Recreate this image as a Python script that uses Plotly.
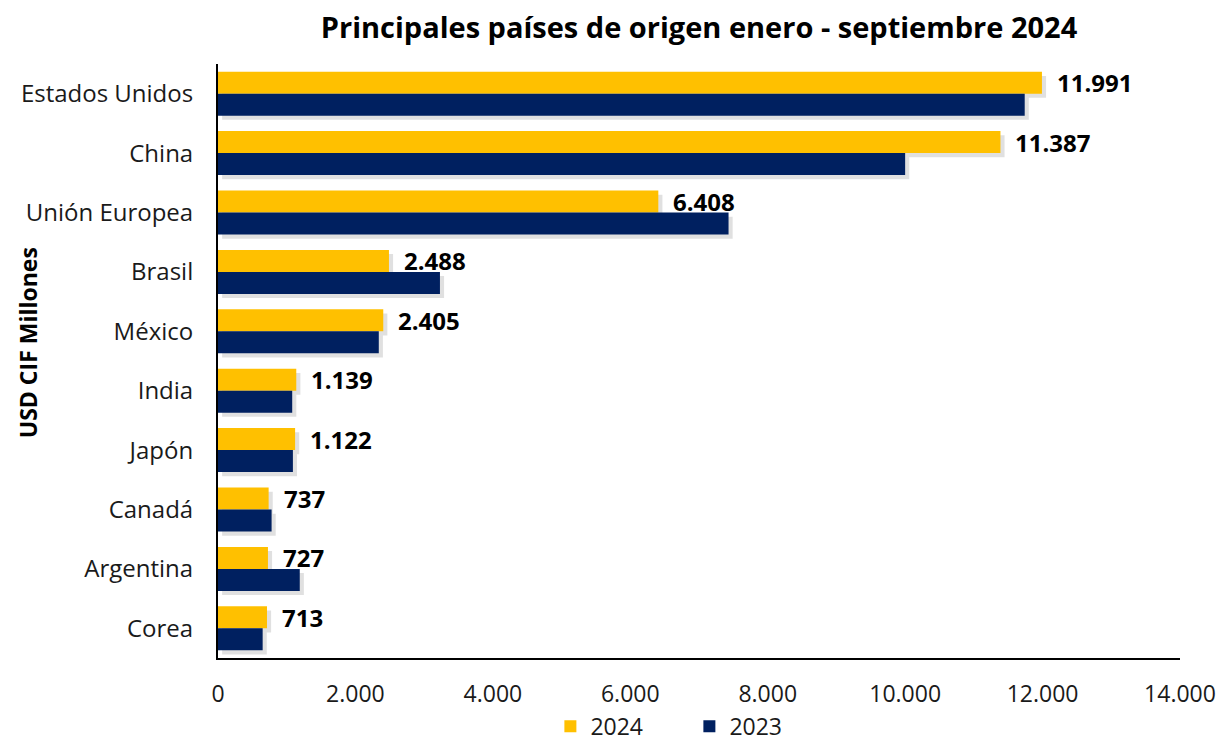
import plotly.graph_objects as go

countries = ["Estados Unidos", "China", "Unión Europea", "Brasil", "México",
             "India", "Japón", "Canadá", "Argentina", "Corea"]
values_2024 = [11991, 11387, 6408, 2488, 2405, 1139, 1122, 737, 727, 713]
values_2023 = [11740, 10000, 7430, 3230, 2340, 1080, 1090, 780, 1190, 650]
x_ticks = [0, 2000, 4000, 6000, 8000, 10000, 12000, 14000]
x_tick_labels = ["0", "2.000", "4.000", "6.000", "8.000", "10.000", "12.000", "14.000"]

def fmt(v):
    return f"{v:,}".replace(",", ".")

GOLD = "#FFC000"
NAVY = "#002060"
FONT = "Open Sans"

fig = go.Figure()

# soft drop shadows (same data, slightly shifted)
for i, vals in enumerate([values_2024, values_2023]):
    fig.add_trace(go.Bar(
        y=countries, x=vals, orientation="h", base=60,
        width=0.37, offset=-0.37 + i * 0.37 + 0.07,
        marker=dict(color="rgba(0,0,0,0.12)", line=dict(width=0)),
        showlegend=False, hoverinfo="skip",
    ))

fig.add_trace(go.Bar(
    y=countries, x=values_2024, orientation="h", name="2024",
    width=0.37, offset=-0.37,
    marker=dict(color=GOLD, line=dict(width=0)),
))
fig.add_trace(go.Bar(
    y=countries, x=values_2023, orientation="h", name="2023",
    width=0.37, offset=0.0,
    marker=dict(color=NAVY, line=dict(width=0)),
))

for c, v in zip(countries, values_2024):
    fig.add_annotation(
        x=v, y=c, text=f"<b>{fmt(v)}</b>", showarrow=False,
        xanchor="left", yanchor="middle", xshift=13, yshift=11,
        font=dict(family=FONT, size=24, color="#000000"),
    )

# y-axis title as a rotated annotation
fig.add_annotation(
    xref="paper", yref="paper", x=-0.1975, y=0.53,
    text="<b>USD CIF Millones</b>", textangle=-90, showarrow=False,
    xanchor="center", yanchor="middle",
    font=dict(family=FONT, size=23, color="#000000"),
)

fig.update_layout(
    width=1219, height=742,
    barmode="overlay",
    paper_bgcolor="white", plot_bgcolor="white",
    margin=dict(l=218, r=39, t=64, b=84, autoexpand=False),
    font=dict(family=FONT, size=24, color="#1a1a1a"),
    title=dict(
        text="<b>Principales países de origen enero - septiembre 2024</b>",
        x=0.5, xref="paper", xanchor="center",
        y=0.962, yref="container", yanchor="middle",
        font=dict(family=FONT, size=29, color="#000000"),
    ),
    xaxis=dict(
        range=[0, 14000], tickvals=x_ticks, ticktext=x_tick_labels,
        showgrid=False, zeroline=False, automargin=False,
        showline=True, linecolor="#000000", linewidth=2,
        ticks="", ticklabelstandoff=14,
        tickfont=dict(family=FONT, size=23, color="#1a1a1a"),
    ),
    yaxis=dict(
        autorange="reversed", showgrid=False, zeroline=False, automargin=False,
        showline=True, linecolor="#000000", linewidth=2,
        ticks="", ticklabelstandoff=18,
        tickfont=dict(family=FONT, size=24, color="#1a1a1a"),
    ),
    legend=dict(
        orientation="h", x=0.49, xanchor="center", xref="paper",
        y=-0.115, yref="paper", yanchor="middle",
        font=dict(family=FONT, size=23, color="#1a1a1a"),
        itemwidth=30, traceorder="normal", entrywidth=94,
    ),
)

fig.write_html(
    "out.html",
    config={"displayModeBar": False},
    post_script="document.body.style.margin='0';"
                "document.documentElement.style.overflow='hidden';"
                "document.body.style.overflow='hidden';",
)
